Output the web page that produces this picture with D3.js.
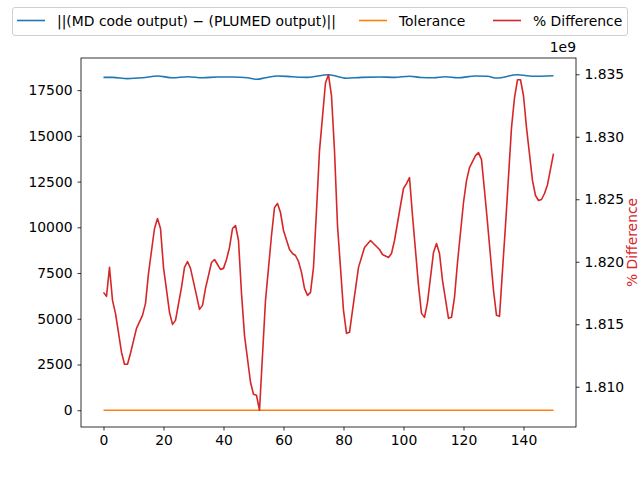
<!DOCTYPE html>
<html>
<head>
<meta charset="utf-8">
<script src="https://cdn.jsdelivr.net/npm/d3@7"></script>
<style>
  body { margin: 0; background: #fff; }
  text { font-family: "DejaVu Sans", sans-serif; }
</style>
</head>
<body>
<div id="chart"></div>
<script>
// step number for each % difference sample
var diffX = [0,1,2,3,4,6,7,8,9,11,13,14,15,17,18,19,20,22,23,24,26,27,28,29,31,32,33,34,36,37,38,39,40,41,42,43,44,45,46,47,49,50,51,52,53,54,56,57,58,59,60,62,63,64,65,66,67,68,69,70,71,72,74,75,76,77,78,80,81,82,83,85,87,89,90,92,93,95,96,97,99,100,101,102,103,105,106,107,108,110,111,112,113,115,116,117,118,120,121,122,124,125,126,127,128,130,131,132,133,134,136,137,138,139,140,141,143,144,145,146,147,148,150];
// % difference (x 1e9)
var diffVals = [1.81755,1.81723,1.81955,1.81691,1.81587,1.81276,1.81180,1.81180,1.81268,1.81467,1.81571,1.81667,1.81907,1.82266,1.82346,1.82266,1.81955,1.81595,1.81499,1.81531,1.81795,1.81955,1.82002,1.81947,1.81731,1.81619,1.81651,1.81787,1.81994,1.82018,1.81978,1.81939,1.81947,1.82018,1.82114,1.82266,1.82290,1.82170,1.81747,1.81411,1.81036,1.80940,1.80932,1.80812,1.81252,1.81691,1.82210,1.82434,1.82466,1.82394,1.82250,1.82098,1.82066,1.82050,1.82002,1.81915,1.81787,1.81731,1.81755,1.81955,1.82410,1.82889,1.83432,1.83496,1.83328,1.82889,1.82290,1.81611,1.81427,1.81435,1.81611,1.81955,1.82114,1.82170,1.82146,1.82098,1.82058,1.82034,1.82066,1.82170,1.82450,1.82586,1.82625,1.82673,1.82370,1.81811,1.81587,1.81555,1.81675,1.82074,1.82146,1.82066,1.81851,1.81547,1.81555,1.81715,1.81994,1.82474,1.82649,1.82753,1.82849,1.82873,1.82817,1.82570,1.82314,1.81771,1.81571,1.81563,1.81931,1.82290,1.83073,1.83312,1.83456,1.83456,1.83328,1.83073,1.82649,1.82530,1.82490,1.82498,1.82546,1.82617,1.82865];

// ||(MD code output) - (PLUMED output)||
var normX = [0,3,8,13,18,23,28,33,38,43,48,51,54,58,63,68,75,81,86,92,97,102,106,110,114,118,124,128,131,138,143,150];
var normVals = [18200,18200,18130,18175,18275,18175,18230,18175,18220,18220,18175,18095,18175,18275,18230,18200,18340,18150,18200,18220,18200,18260,18190,18175,18230,18175,18275,18260,18160,18340,18260,18290];

var tolX = [0,150];
var tolVals = [0,0];

var xTicks = [0,20,40,60,80,100,120,140];
var leftTicks = [0,2500,5000,7500,10000,12500,15000,17500];
var rightTicks = [1.810,1.815,1.820,1.825,1.830,1.835];

var W = 640, H = 480;
var margin = {top: 58, right: 64, bottom: 53, left: 81};
var w = W - margin.left - margin.right,
    h = H - margin.top - margin.bottom;
var fs = 13.9;

function pad(ext) {
  var r = ext[1] - ext[0];
  return [ext[0] - 0.05 * r, ext[1] + 0.05 * r];
}

var svg = d3.select("#chart").append("svg")
   .attr("width", W)
   .attr("height", H);

var g = svg.append("g")
   .attr("transform", "translate(" + margin.left + "," + margin.top + ")");

var xScale = d3.scaleLinear()
   .domain(pad(d3.extent(diffX.concat(normX, tolX))))
   .range([0, w]);
var yLeft = d3.scaleLinear()
   .domain(pad(d3.extent(normVals.concat(tolVals))))
   .range([h, 0]);
var yRight = d3.scaleLinear()
   .domain(pad(d3.extent(diffVals)))
   .range([h, 0]);

var xAxis = d3.axisBottom(xScale).tickValues(xTicks).tickSize(3.5).tickPadding(4.9);
var leftAxis = d3.axisLeft(yLeft).tickValues(leftTicks).tickSize(3.5).tickPadding(4.9)
   .tickFormat(d3.format("d"));
var rightAxis = d3.axisRight(yRight).tickValues(rightTicks).tickSize(3.5).tickPadding(4.9)
   .tickFormat(d3.format(".3f"));

var lineNorm = d3.line()
   .x(function(d, i) { return xScale(normX[i]); })
   .y(function(d) { return yLeft(d); })
   .curve(d3.curveMonotoneX);
var lineTol = d3.line()
   .x(function(d, i) { return xScale(tolX[i]); })
   .y(function(d) { return yLeft(d); });
var lineDiff = d3.line()
   .x(function(d, i) { return xScale(diffX[i]); })
   .y(function(d) { return yRight(d); });

g.append("path").datum(normVals)
   .attr("fill", "none").attr("stroke", "#1f77b4").attr("stroke-width", 1.6)
   .attr("d", lineNorm);
g.append("path").datum(tolVals)
   .attr("fill", "none").attr("stroke", "#ff7f0e").attr("stroke-width", 1.6)
   .attr("d", lineTol);
g.append("path").datum(diffVals)
   .attr("fill", "none").attr("stroke", "#d62728").attr("stroke-width", 1.6)
   .attr("stroke-linejoin", "round")
   .attr("d", lineDiff);

// frame
g.append("rect")
   .attr("width", w).attr("height", h)
   .attr("fill", "none").attr("stroke", "#000").attr("stroke-width", 0.8);

function styleAxis(sel) {
  sel.select(".domain").remove();
  sel.selectAll(".tick line").attr("stroke", "#000").attr("stroke-width", 0.8);
  sel.selectAll(".tick text").attr("fill", "#000")
     .style("font-family", "DejaVu Sans").style("font-size", fs + "px");
}

g.append("g").attr("class", "x-axis")
   .attr("transform", "translate(0," + h + ")")
   .call(xAxis).call(styleAxis);
g.append("g").attr("class", "y-axis")
   .call(leftAxis).call(styleAxis);
g.append("g").attr("class", "y-axis-right")
   .attr("transform", "translate(" + w + ",0)")
   .call(rightAxis).call(styleAxis);

// offset text
g.append("text")
   .attr("x", w).attr("y", -6)
   .attr("text-anchor", "end")
   .style("font-size", fs + "px")
   .text("1e9");

svg.append("text")
   .attr("text-anchor", "middle")
   .attr("fill", "#d62728")
   .style("font-size", fs + "px")
   .attr("transform", "translate(637," + (margin.top + h / 2) + ")rotate(-90)")
   .text("% Difference");

// legend
var legend = svg.append("g");
legend.append("rect")
   .attr("x", 12.5).attr("y", 7.5).attr("width", 615).attr("height", 28)
   .attr("rx", 2.5)
   .attr("fill", "#fff").attr("stroke", "#d0d0d0").attr("stroke-width", 1);
var items = [
  {name: "||(MD code output) \u2212 (PLUMED output)||", color: "#1f77b4", x: 17},
  {name: "Tolerance", color: "#ff7f0e", x: 359},
  {name: "% Difference", color: "#d62728", x: 493}
];
items.forEach(function(it) {
  legend.append("line")
     .attr("x1", it.x).attr("x2", it.x + 28)
     .attr("y1", 20.5).attr("y2", 20.5)
     .attr("stroke", it.color).attr("stroke-width", 1.6);
  legend.append("text")
     .attr("x", it.x + 40).attr("y", 25.5)
     .style("font-size", fs + "px")
     .text(it.name);
});
</script>
</body>
</html>
